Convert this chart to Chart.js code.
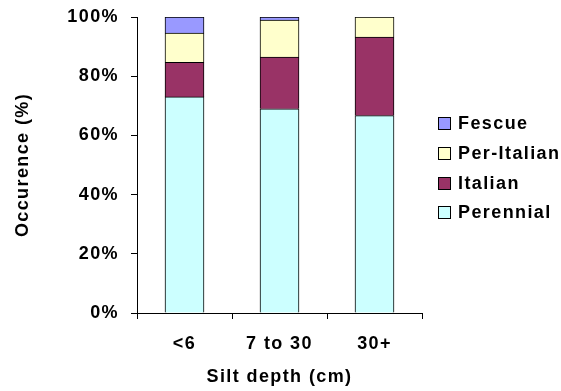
<!DOCTYPE html>
<html>
<head>
<meta charset="utf-8">
<script src="https://cdn.jsdelivr.net/npm/chart.js@4.4.1/dist/chart.umd.min.js"></script>
<style>
  html, body { margin: 0; padding: 0; background: #fff; }
  #chart { display: block; }
</style>
</head>
<body>
<canvas id="chart" width="561" height="391"></canvas>
<script>
const categories = ["<6", "7 to 30", "30+"];
const perennial = [73, 69, 66.7];
const italian = [11.7, 17.5, 26.5];
const perItalian = [9.9, 12.5, 6.8];
const fescue = [5.4, 1.0, 0];
const yTicks = [0, 20, 40, 60, 80, 100];

const fontFamily = '"Liberation Sans", Arial, sans-serif';
const boldFont = { family: fontFamily, size: 18, weight: "bold" };

// excel-ish wide lettering
const spacingPlugin = {
  id: "spacing",
  beforeUpdate(chart) { chart.ctx.letterSpacing = "1.4px"; },
  beforeDraw(chart) { chart.ctx.letterSpacing = "1.4px"; }
};

// legend on the right, top entry first
const sideLegend = {
  id: "sideLegend",
  afterDraw(chart) {
    const ctx = chart.ctx;
    const sets = chart.data.datasets.slice().reverse();
    ctx.save();
    ctx.font = "bold 18px " + fontFamily;
    ctx.textBaseline = "middle";
    ctx.textAlign = "left";
    sets.forEach((ds, i) => {
      const y = Math.round(123 + i * 29.8);
      ctx.fillStyle = ds.backgroundColor;
      ctx.fillRect(438.5, y - 5.5, 12, 12);
      ctx.strokeStyle = "#000";
      ctx.lineWidth = 1;
      ctx.strokeRect(438.5, y - 5.5, 12, 12);
      ctx.fillStyle = "#000";
      ctx.fillText(ds.label, 458, y + 1);
    });
    ctx.restore();
  }
};

const barStyle = {
  borderColor: "#000",
  borderWidth: 1,
  borderSkipped: "start",
  barThickness: 39
};

new Chart(document.getElementById("chart"), {
  type: "bar",
  data: {
    labels: categories,
    datasets: [
      { label: "Perennial", data: perennial, backgroundColor: "#CCFFFF", ...barStyle },
      { label: "Italian", data: italian, backgroundColor: "#993366", ...barStyle },
      { label: "Per-Italian", data: perItalian, backgroundColor: "#FFFFCC", ...barStyle },
      { label: "Fescue", data: fescue, backgroundColor: "#9999FF", ...barStyle }
    ]
  },
  options: {
    responsive: false,
    animation: false,
    layout: { padding: { top: 17, right: 139, bottom: 0, left: 0 } },
    plugins: {
      legend: { display: false },
      tooltip: { enabled: false }
    },
    scales: {
      x: {
        stacked: true,
        afterFit(scale) {
          scale.height = 78;
          scale.paddingLeft = 0;
          scale.paddingRight = 0;
        },
        grid: { offset: true, drawOnChartArea: false, drawTicks: true, tickLength: 6, color: "#000" },
        border: { display: true, color: "#000", width: 1 },
        ticks: { color: "#000", font: boldFont, padding: 14 },
        title: {
          display: true,
          text: "Silt depth (cm)",
          color: "#000",
          font: boldFont,
          padding: { top: 0, bottom: 3 }
        }
      },
      y: {
        stacked: true,
        min: 0,
        max: 100,
        afterFit(scale) {
          scale.width = 137;
          scale.paddingTop = 0;
          scale.paddingBottom = 0;
        },
        afterBuildTicks(scale) { scale.ticks = yTicks.map((v) => ({ value: v })); },
        grid: { drawOnChartArea: false, drawTicks: true, tickLength: 6, color: "#000" },
        border: { display: true, color: "#000", width: 1 },
        ticks: {
          color: "#000",
          font: boldFont,
          padding: 12,
          callback: (v) => v + "%"
        },
        title: {
          display: true,
          text: "Occurence (%)",
          color: "#000",
          font: boldFont,
          padding: { top: 12, bottom: 0 }
        }
      }
    }
  },
  plugins: [spacingPlugin, sideLegend]
});
</script>
</body>
</html>
